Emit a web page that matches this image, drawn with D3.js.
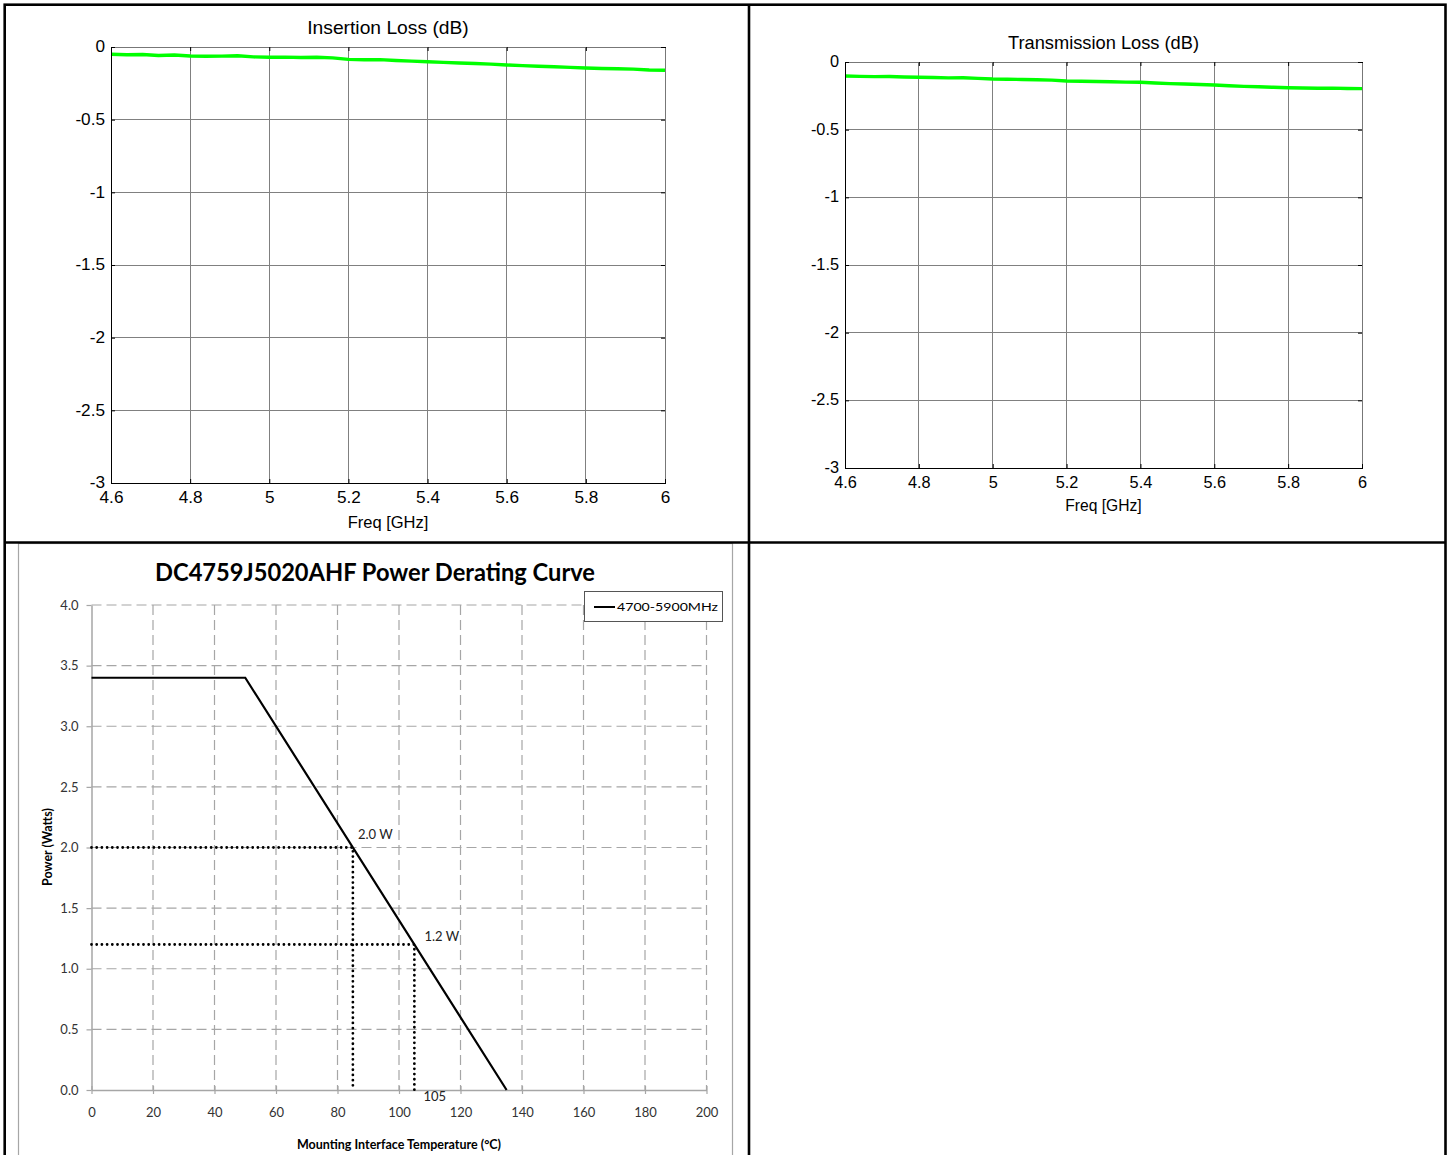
<!DOCTYPE html>
<html>
<head>
<meta charset="utf-8">
<script src="https://cdn.jsdelivr.net/npm/d3@7"></script>
<style>
  body { margin: 0; background: #fff; }
</style>
</head>
<body>
<script>
const freqGHz = [4.60, 4.64, 4.68, 4.72, 4.76, 4.80, 4.84, 4.88, 4.92, 4.96, 5.00, 5.04,
  5.08, 5.12, 5.16, 5.20, 5.24, 5.28, 5.32, 5.36, 5.40, 5.44, 5.48, 5.52,
  5.56, 5.60, 5.64, 5.68, 5.72, 5.76, 5.80, 5.84, 5.88, 5.92, 5.96, 6.00];
const insertionLoss = [-0.050, -0.053, -0.052, -0.058, -0.055, -0.062, -0.064, -0.063, -0.060, -0.068, -0.071, -0.070,
  -0.072, -0.071, -0.075, -0.085, -0.088, -0.087, -0.093, -0.097, -0.101, -0.106, -0.110, -0.114,
  -0.118, -0.124, -0.128, -0.132, -0.136, -0.140, -0.144, -0.148, -0.150, -0.152, -0.158, -0.160];
const transmissionLoss = [-0.103, -0.106, -0.108, -0.107, -0.111, -0.113, -0.115, -0.117, -0.116, -0.121, -0.126, -0.127,
  -0.129, -0.131, -0.134, -0.140, -0.142, -0.144, -0.146, -0.149, -0.150, -0.155, -0.160, -0.163,
  -0.166, -0.170, -0.176, -0.180, -0.183, -0.187, -0.190, -0.192, -0.194, -0.193, -0.196, -0.197];
const freqTicks = [4.6, 4.8, 5, 5.2, 5.4, 5.6, 5.8, 6];
const lossTicks = [0, -0.5, -1, -1.5, -2, -2.5, -3];

// power derating curve
const deratingTemp = [0, 50, 135];
const deratingPower = [3.4, 3.4, 0];
const derateMarks = [
  { temp: 85, power: 2.0, label: "2.0 W" },
  { temp: 105, power: 1.2, label: "1.2 W" }
];
const tempTicks = [0, 20, 40, 60, 80, 100, 120, 140, 160, 180, 200];
const powerTicks = [0, 0.5, 1, 1.5, 2, 2.5, 3, 3.5, 4];

const svg = d3.select("body").append("svg")
  .attr("width", 1449).attr("height", 1155);

const matlabFont = "Liberation Sans, Arial, sans-serif";
const excelFont = "Lato, Noto Sans, sans-serif";

function lossChart(box, values, title, fs) {
  const x = d3.scaleLinear().domain([4.6, 6]).range([box.left, box.right]);
  const y = d3.scaleLinear().domain([-3, 0]).range([box.bottom, box.top]);
  const g = svg.append("g").attr("font-family", matlabFont);

  // grid
  g.append("g").selectAll("line").data(freqTicks.slice(1, -1)).join("line")
    .attr("x1", d => x(d)).attr("x2", d => x(d))
    .attr("y1", box.top).attr("y2", box.bottom);
  g.append("g").selectAll("line").data(lossTicks.slice(1, -1)).join("line")
    .attr("x1", box.left).attr("x2", box.right)
    .attr("y1", d => y(d)).attr("y2", d => y(d));
  g.selectAll("line").attr("stroke", "#808080").attr("stroke-width", 1)
    .attr("shape-rendering", "crispEdges");

  // trace
  g.append("path")
    .datum(d3.zip(freqGHz, values))
    .attr("fill", "none")
    .attr("stroke", "#00ff00")
    .attr("stroke-width", 3.4)
    .attr("stroke-linejoin", "round")
    .attr("d", d3.line().x(d => x(d[0])).y(d => y(d[1])));

  // box
  const styleAxis = (a, col) => {
    a.attr("font-family", matlabFont).attr("font-size", fs);
    a.select(".domain").attr("stroke", col).attr("shape-rendering", "crispEdges");
    a.selectAll(".tick line").attr("stroke", "#000");
    a.selectAll(".tick text").attr("fill", "#000");
  };
  g.append("g").attr("transform", `translate(0,${box.top})`)
    .call(d3.axisTop(x).tickValues(freqTicks).tickSizeInner(-4).tickSizeOuter(0).tickFormat(""))
    .call(a => styleAxis(a, "#777"));
  g.append("g").attr("transform", `translate(${box.right},0)`)
    .call(d3.axisRight(y).tickValues(lossTicks).tickSizeInner(-4).tickSizeOuter(0).tickFormat(""))
    .call(a => styleAxis(a, "#777"));
  g.append("g").attr("transform", `translate(${box.left},0)`)
    .call(d3.axisLeft(y).tickValues(lossTicks).tickSizeInner(-4).tickSizeOuter(0)
      .tickPadding(6).tickFormat(d => String(d)))
    .call(a => styleAxis(a, "#000"))
    .call(a => a.selectAll(".tick text").attr("dy", "0.28em"));
  g.append("g").attr("transform", `translate(0,${box.bottom})`)
    .call(d3.axisBottom(x).tickValues(freqTicks).tickSizeInner(-4).tickSizeOuter(0)
      .tickPadding(8).tickFormat(d => String(d)))
    .call(a => styleAxis(a, "#000"));

  g.append("text")
    .attr("x", (box.left + box.right) / 2).attr("y", box.titleY)
    .attr("text-anchor", "middle").attr("font-size", fs * 1.12)
    .text(title);
  g.append("text")
    .attr("x", (box.left + box.right) / 2).attr("y", box.labelY)
    .attr("text-anchor", "middle").attr("font-size", fs * 0.96)
    .text("Freq [GHz]");
}

lossChart({ left: 111, right: 665, top: 47, bottom: 483, titleY: 34, labelY: 528 },
  insertionLoss, "Insertion Loss (dB)", 17.2);
lossChart({ left: 845, right: 1362, top: 62, bottom: 468, titleY: 49, labelY: 511 },
  transmissionLoss, "Transmission Loss (dB)", 16.3);

// ---- power derating chart (Excel style)
const pg = svg.append("g").attr("font-family", excelFont);
pg.append("rect")
  .attr("x", 18.5).attr("y", 543.5).attr("width", 714).attr("height", 700)
  .attr("fill", "#fff").attr("stroke", "#a6a6a6").attr("stroke-width", 1.2);

const px = d3.scaleLinear().domain([0, 200]).range([91.5, 706.5]);
const py = d3.scaleLinear().domain([0, 4]).range([1090, 605]);

const grid = pg.append("g").attr("stroke", "#a6a6a6").attr("stroke-width", 1.2)
  .attr("stroke-dasharray", "10,5");
grid.selectAll(".v").data(tempTicks.slice(1)).join("line")
  .attr("x1", d => px(d)).attr("x2", d => px(d))
  .attr("y1", py(4)).attr("y2", py(0));
grid.selectAll(".h").data(powerTicks.slice(1)).join("line")
  .attr("x1", px(0)).attr("x2", px(200))
  .attr("y1", d => py(d)).attr("y2", d => py(d));

const axisStyle = a => {
  a.attr("font-family", excelFont).attr("font-size", 13);
  a.select(".domain").attr("stroke", "#a6a6a6").attr("stroke-width", 1.5);
  a.selectAll(".tick line").attr("stroke", "#a6a6a6").attr("stroke-width", 1.2);
  a.selectAll(".tick text").attr("fill", "#333");
};
pg.append("g").attr("transform", `translate(${px(0)},0)`)
  .call(d3.axisLeft(py).tickValues(powerTicks).tickSize(5).tickSizeOuter(0)
    .tickPadding(8).tickFormat(d3.format(".1f")))
  .call(axisStyle);
pg.append("g").attr("transform", `translate(0,${py(0)})`)
  .call(d3.axisBottom(px).tickValues(tempTicks).tickSize(4).tickSizeOuter(0)
    .tickPadding(14).tickFormat(d3.format("d")))
  .call(axisStyle)
  .call(a => a.selectAll(".tick line").attr("y1", -4));

// dotted guide lines
const dots = pg.append("g").attr("stroke", "#000").attr("stroke-width", 2.8)
  .attr("stroke-linecap", "round").attr("stroke-dasharray", "0,5.2").attr("fill", "none");
derateMarks.forEach(m => {
  dots.append("path").attr("d", d3.line()([[px(0), py(m.power)], [px(m.temp), py(m.power)], [px(m.temp), py(0)]]));
});

// curve
pg.append("path")
  .datum(d3.zip(deratingTemp, deratingPower))
  .attr("fill", "none").attr("stroke", "#000").attr("stroke-width", 2.2)
  .attr("d", d3.line().x(d => px(d[0])).y(d => py(d[1])));

pg.selectAll(".mlab").data(derateMarks).join("text")
  .attr("x", (d, i) => px(d.temp) + (i === 0 ? 5 : 10))
  .attr("y", (d, i) => py(d.power) - (i === 0 ? 8.5 : 3.5))
  .attr("font-size", 13).attr("fill", "#222")
  .text(d => d.label);
pg.append("text")
  .attr("x", px(derateMarks[1].temp) + 9).attr("y", py(0) + 11)
  .attr("font-size", 13).attr("fill", "#222")
  .text(String(derateMarks[1].temp));

// title
pg.append("text")
  .attr("x", 375).attr("y", 581)
  .attr("text-anchor", "middle").attr("font-weight", "bold")
  .attr("font-size", 24).attr("fill", "#000")
  .attr("textLength", 440).attr("lengthAdjust", "spacingAndGlyphs")
  .text("DC4759J5020AHF Power Derating Curve");

// axis titles
pg.append("text")
  .attr("transform", "translate(52,847) rotate(-90)")
  .attr("text-anchor", "middle").attr("font-weight", "bold").attr("font-size", 12.5)
  .text("Power (Watts)");
pg.append("text")
  .attr("x", 399).attr("y", 1149)
  .attr("text-anchor", "middle").attr("font-weight", "bold").attr("font-size", 12.5)
  .text("Mounting Interface Temperature (\u00B0C)");

// legend
const lg = pg.append("g");
lg.append("rect").attr("x", 584.5).attr("y", 591.5).attr("width", 138).attr("height", 30)
  .attr("fill", "#fff").attr("stroke", "#555").attr("stroke-width", 1);
lg.append("line").attr("x1", 594).attr("x2", 615).attr("y1", 607).attr("y2", 607)
  .attr("stroke", "#000").attr("stroke-width", 2);
lg.append("text").attr("x", 617).attr("y", 611)
  .attr("font-size", 12).attr("textLength", 101).attr("lengthAdjust", "spacingAndGlyphs")
  .text("4700-5900MHz");

// table frame
const frame = svg.append("g").attr("stroke", "#000").attr("stroke-width", 2.6).attr("fill", "none");
frame.append("rect").attr("x", 4.7).attr("y", 4.7).attr("width", 1440.8).attr("height", 1170);
frame.append("line").attr("x1", 749).attr("x2", 749).attr("y1", 4.7).attr("y2", 1175);
frame.append("line").attr("x1", 4.7).attr("x2", 1445.5).attr("y1", 542.5).attr("y2", 542.5);
</script>
</body>
</html>
